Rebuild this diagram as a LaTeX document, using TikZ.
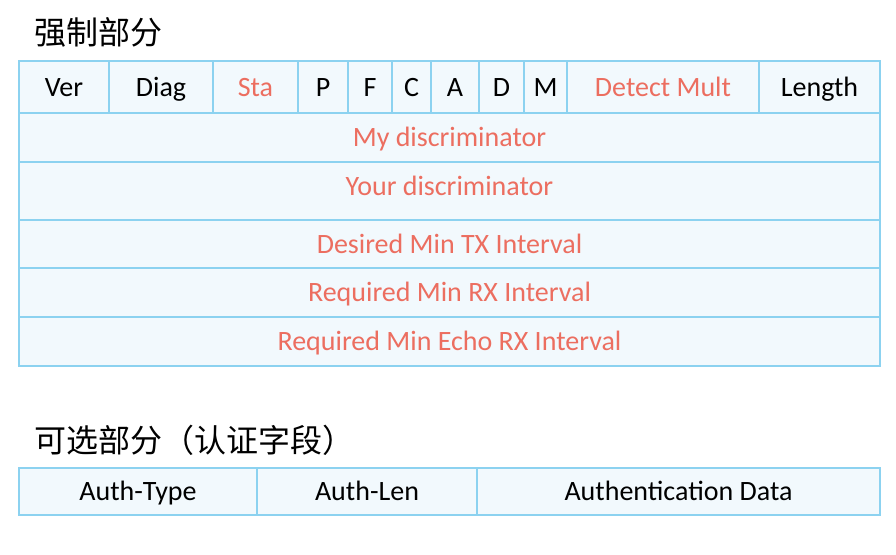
\documentclass[tikz,border=0pt]{standalone}
\usepackage{fontspec}
\setmainfont{Carlito}
\newfontfamily\cjk{Noto Sans CJK SC}
\usepackage{tikz}
\usetikzlibrary{positioning}
\definecolor{cellline}{RGB}{140,210,240}
\definecolor{cellbg}{RGB}{242,249,253}
\definecolor{fieldred}{RGB}{236,110,96}

\begin{document}
\begin{tikzpicture}[x=1pt, y=-1pt,
    cell/.style={rectangle, draw=cellline, fill=cellbg, line width=2pt, inner sep=0pt, outer sep=0pt, align=center, text height=21pt, text depth=3pt, font=\fontsize{28}{32}\selectfont},
    hot/.style={cell, text=fieldred},
    title/.style={anchor=west, inner sep=0pt, font=\cjk\fontsize{32}{36}\selectfont}
]
\useasboundingbox (0,0) rectangle (896,554);

% mandatory part
\node[title] (mandtitle) at (34,32) {强制部分};

\node[cell, minimum width=90pt, minimum height=52pt] (ver) at (64,87) {Ver};
\node[cell, minimum width=104pt, minimum height=52pt] (diag) at (161,87) {Diag};
\node[hot, minimum width=85pt, minimum height=52pt] (sta) at (255.5,87) {Sta};
\node[cell, minimum width=50pt, minimum height=52pt] (pbit) at (323,87) {P};
\node[cell, minimum width=44pt, minimum height=52pt] (fbit) at (370,87) {F};
\node[cell, minimum width=39pt, minimum height=52pt] (cbit) at (411.5,87) {C};
\node[cell, minimum width=48pt, minimum height=52pt] (abit) at (455,87) {A};
\node[cell, minimum width=45pt, minimum height=52pt] (dbit) at (501.5,87) {D};
\node[cell, minimum width=43pt, minimum height=52pt] (mbit) at (545.5,87) {M};
\node[hot, minimum width=192pt, minimum height=52pt] (mult) at (663,87) {Detect Mult};
\node[cell, minimum width=121pt, minimum height=52pt] (len) at (819.5,87) {Length};

\node[hot, minimum width=861pt, minimum height=49pt] (mydisc) at (449.5,137.5) {My discriminator};
\node[hot, minimum width=861pt, minimum height=58pt] (yourdisc) at (449.5,191) {};
\node[text=fieldred, inner sep=0pt, text height=21pt, text depth=3pt, font=\fontsize{28}{32}\selectfont] (yourtext) at (449.5,186) {Your discriminator};
\node[hot, minimum width=861pt, minimum height=48pt] (txint) at (449.5,244) {Desired Min TX Interval};
\node[hot, minimum width=861pt, minimum height=49pt] (rxint) at (449.5,292.5) {Required Min RX Interval};
\node[hot, minimum width=861pt, minimum height=49pt] (echoint) at (449.5,341.5) {Required Min Echo RX Interval};

% optional part
\node[title] (opttitle) at (34,440) {可选部分（认证字段）};

\node[cell, minimum width=238pt, minimum height=47pt] (authtype) at (138,491.5) {Auth-Type};
\node[cell, minimum width=220pt, minimum height=47pt] (authlen) at (367,491.5) {Auth-Len};
\node[cell, minimum width=403pt, minimum height=47pt] (authdata) at (678.5,491.5) {Authentication Data};

\end{tikzpicture}
\end{document}
